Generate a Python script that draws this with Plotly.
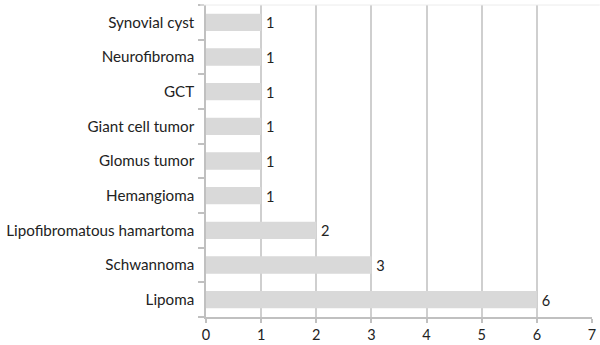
import plotly.graph_objects as go

categories = ["Lipoma", "Schwannoma", "Lipofibromatous hamartoma", "Hemangioma",
              "Glomus tumor", "Giant cell tumor", "GCT", "Neurofibroma", "Synovial cyst"]
values = [6, 3, 2, 1, 1, 1, 1, 1, 1]
x_ticks = [0, 1, 2, 3, 4, 5, 6, 7]

font_family = "Lato, Open Sans, sans-serif"
fs = 15.2

fig = go.Figure(go.Bar(
    y=categories, x=values, orientation="h",
    marker=dict(color="#d9d9d9", line=dict(width=0)),
    text=["\u2009" + str(v) for v in values], textposition="outside",
    textfont=dict(size=16, color="#222", family=font_family),
    cliponaxis=False,
))

fig.update_layout(
    width=600, height=345,
    margin=dict(l=206, r=8, t=5, b=28, autoexpand=False),
    paper_bgcolor="white", plot_bgcolor="white",
    bargap=0.5,
    showlegend=False,
    font=dict(family=font_family, size=fs, color="#222"),
    xaxis=dict(range=[0, 7], tickvals=x_ticks, showgrid=True, gridcolor="#cfcfcf", gridwidth=1.5,
               zeroline=False, showline=True, linecolor="#c0c0c0", linewidth=1.5,
               ticks="outside", ticklen=4, tickcolor="#c0c0c0", tickwidth=1.5,
               automargin=False, ticklabelstandoff=0,
               tickfont=dict(size=14.5, color="#222")),
    yaxis=dict(showgrid=False, zeroline=False, showline=True, linecolor="#c0c0c0", linewidth=1.5,
               ticks="outside", ticklen=6, tickcolor="#c0c0c0", tickwidth=1.5,
               tickson="boundaries", ticklabelstandoff=7, automargin=False,
               tickfont=dict(size=fs, color="#222")),
)
fig.add_shape(type="line", xref="paper", yref="paper", x0=-0.015, x1=1.02, y0=1, y1=1,
              line=dict(color="#ececec", width=1))

fig.write_html("out.html")
